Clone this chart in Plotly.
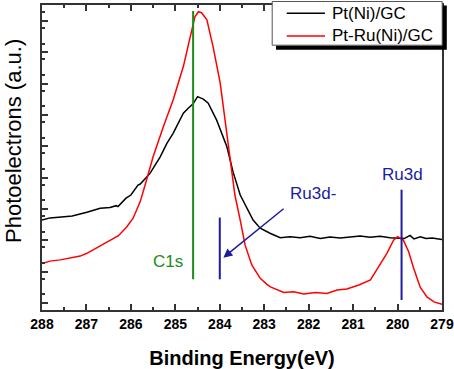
import plotly.graph_objects as go

# Binding energy (eV) and intensity (a.u.)
be_pt = [288.00, 287.82, 287.50, 287.32, 286.99, 286.69, 286.47, 286.33, 286.29, 286.11,
         286.00, 285.84, 285.79, 285.57, 285.34, 285.19, 285.05, 284.82, 284.71, 284.60,
         284.50, 284.37, 284.26, 284.07, 283.84, 283.70, 283.54, 283.39, 283.25, 283.09,
         282.87, 282.64, 282.42, 282.19, 281.97, 281.74, 281.52, 281.29, 281.07, 280.84,
         280.62, 280.39, 280.17, 279.99, 279.85, 279.72, 279.63, 279.49, 279.36, 279.22,
         279.00]
int_pt = [2.87, 2.94, 2.98, 3.00, 3.12, 3.25, 3.27, 3.33, 3.30, 3.57,
          3.67, 3.99, 4.02, 4.36, 4.89, 5.32, 5.64, 6.28, 6.44, 6.58,
          6.81, 6.73, 6.60, 6.06, 5.21, 4.40, 3.67, 3.25, 2.87, 2.61,
          2.45, 2.31, 2.34, 2.31, 2.35, 2.28, 2.33, 2.30, 2.34, 2.36,
          2.32, 2.35, 2.31, 2.30, 2.28, 2.38, 2.27, 2.34, 2.28, 2.30,
          2.25]

be_ptru = [288.00, 287.82, 287.59, 287.37, 287.14, 286.99, 286.69, 286.47, 286.28, 286.09,
           285.95, 285.79, 285.68, 285.50, 285.27, 285.05, 284.82, 284.63, 284.56, 284.48,
           284.41, 284.29, 284.15, 283.99, 283.84, 283.66, 283.54, 283.43, 283.28, 283.09,
           282.94, 282.86, 282.56, 282.34, 282.11, 281.85, 281.59, 281.36, 281.14, 280.87,
           280.61, 280.39, 280.24, 280.09, 280.00, 279.87, 279.75, 279.64, 279.49, 279.34,
           279.18, 279.00]
int_ptru = [1.48, 1.56, 1.60, 1.65, 1.72, 1.81, 2.06, 2.22, 2.37, 2.66,
            2.93, 3.46, 3.99, 4.89, 5.85, 6.70, 7.77, 8.94, 9.36, 9.52,
            9.49, 9.26, 8.40, 7.24, 5.53, 3.67, 2.87, 2.07, 1.44, 1.01,
            0.82, 0.74, 0.56, 0.58, 0.51, 0.56, 0.53, 0.64, 0.67, 0.80,
            0.96, 1.44, 1.81, 2.23, 2.34, 2.23, 1.86, 1.34, 0.73, 0.42,
            0.26, 0.18]

series_names = ["Pt(Ni)/GC", "Pt-Ru(Ni)/GC"]
series_colors = ["#000000", "#ff0000"]

# Reference markers: (position eV, y bottom, y top)
c1s_line = (284.6, 0.98, 9.54)
ru3d_minus_line = (284.0, 0.98, 2.95)
ru3d_line = (279.91, 0.32, 3.84)

x_ticks = [288, 287, 286, 285, 284, 283, 282, 281, 280, 279]
x_tick_labels = ["288", "287", "286", "285", "284", "283", "282", "281", "280", "279"]

FONT = "Liberation Sans, Arial, sans-serif"
GREEN = "#1a8c1a"
BLUE = "#1c1ca0"

W, H = 454, 369
ML, MR, MT, MB = 42, 12, 5, 59
PW, PH = W - ML - MR, H - MT - MB


def px(xp):
    return (xp - ML) / PW


def py(yp):
    return (H - MB - yp) / PH


fig = go.Figure()
fig.add_trace(go.Scatter(x=be_pt, y=int_pt, mode="lines", name=series_names[0],
                         line=dict(color=series_colors[0], width=1.5), showlegend=False))
fig.add_trace(go.Scatter(x=be_ptru, y=int_ptru, mode="lines", name=series_names[1],
                         line=dict(color=series_colors[1], width=1.5), showlegend=False))

for (xv, y0, y1), col in [(c1s_line, GREEN), (ru3d_minus_line, BLUE), (ru3d_line, BLUE)]:
    fig.add_shape(type="line", xref="x", yref="y", x0=xv, x1=xv, y0=y0, y1=y1,
                  line=dict(color=col, width=2))

# Arrow for Ru3d-
fig.add_annotation(x=283.92, y=1.67, ax=282.53, ay=3.27, xref="x", yref="y",
                   axref="x", ayref="y", text="", showarrow=True, arrowhead=2,
                   arrowsize=1.2, arrowwidth=1.5, arrowcolor=BLUE)

fig.add_annotation(x=285.16, y=1.56, text="C1s", showarrow=False, xref="x", yref="y",
                   font=dict(family=FONT, size=17, color=GREEN))
fig.add_annotation(x=281.90, y=3.73, text="Ru3d-", showarrow=False, xref="x", yref="y",
                   font=dict(family=FONT, size=17, color=BLUE))
fig.add_annotation(x=279.90, y=4.34, text="Ru3d", showarrow=False, xref="x", yref="y",
                   font=dict(family=FONT, size=17, color=BLUE))

# Y axis title
fig.add_annotation(x=px(13), y=py(141), xref="paper", yref="paper",
                   text="Photoelectrons (a.u.)", showarrow=False, textangle=-90,
                   xanchor="center", yanchor="middle",
                   font=dict(family=FONT, size=22, color="black"))

# Legend box with drop shadow (shadow drawn as a thick polyline)
fig.add_shape(type="rect", xref="paper", yref="paper",
              x0=px(272.2), x1=px(442.2), y0=py(45.2), y1=py(1.5),
              fillcolor="white", line=dict(color="#555555", width=1), layer="above")
fig.add_shape(type="path", xref="paper", yref="paper",
              path="M {:.5f},{:.5f} L {:.5f},{:.5f} L {:.5f},{:.5f}".format(
                  px(276), py(47.8), px(444.8), py(47.8), px(444.8), py(5.5)),
              line=dict(color="black", width=4), layer="above")
for row_y, name, col in [(13.3, series_names[0], series_colors[0]),
                         (36.0, series_names[1], series_colors[1])]:
    fig.add_shape(type="line", xref="paper", yref="paper",
                  x0=px(286.7), x1=px(325), y0=py(row_y), y1=py(row_y),
                  line=dict(color=col, width=1.5), layer="above")
    fig.add_annotation(x=px(330), y=py(row_y), xref="paper", yref="paper",
                       text=name, showarrow=False, xanchor="left", yanchor="middle",
                       font=dict(family=FONT, size=17, color="black"))

fig.update_layout(
    width=W, height=H,
    margin=dict(l=ML, r=MR, t=MT, b=MB),
    paper_bgcolor="white", plot_bgcolor="white",
    font=dict(family=FONT, color="black"),
    showlegend=False,
)

fig.update_xaxes(
    range=[288, 279], tickmode="array", tickvals=x_ticks, ticktext=x_tick_labels,
    ticks="inside", ticklen=6, tickwidth=1.5, tickcolor="#333333",
    minor=dict(dtick=0.5, ticks="inside", ticklen=3, tickwidth=1.5, tickcolor="#333333"),
    showline=True, linecolor="#333333", linewidth=2, mirror="ticks",
    showgrid=False, zeroline=False, automargin=False,
    tickfont=dict(family=FONT, size=14, color="black", weight="bold"),
    title=dict(text="Binding Energy(eV)", standoff=20,
               font=dict(family=FONT, size=20, color="black", weight="bold")),
)
fig.update_yaxes(
    range=[0, 9.735], tick0=0.223, dtick=1, showticklabels=False,
    ticks="inside", ticklen=6, tickwidth=1.5, tickcolor="#333333",
    minor=dict(dtick=0.5, ticks="inside", ticklen=3, tickwidth=1.5, tickcolor="#333333"),
    showline=True, linecolor="#333333", linewidth=2, mirror=True,
    showgrid=False, zeroline=False, automargin=False,
)

fig.write_html("out.html", config={"displayModeBar": False},
               post_script="document.body.style.margin='0';")
